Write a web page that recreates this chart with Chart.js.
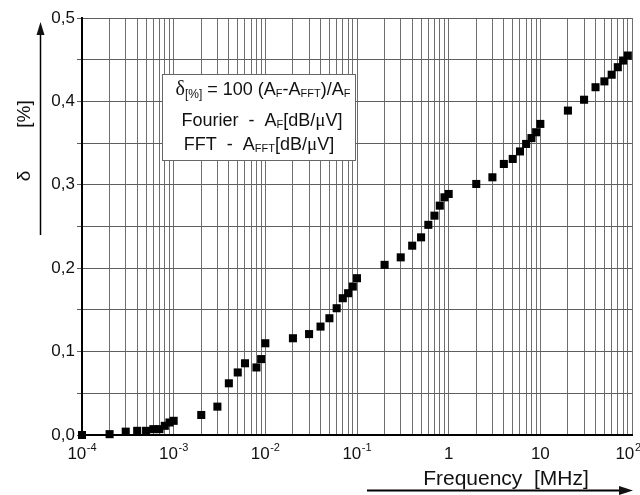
<!DOCTYPE html>
<html>
<head>
<meta charset="utf-8">
<script src="https://cdn.jsdelivr.net/npm/chart.js@4"></script>
<style>
  html, body { margin: 0; padding: 0; background: #fff; }
  #c { display: block; }
</style>
</head>
<body>
<canvas id="c" width="640" height="495"></canvas>
<script>
// Relative difference between Fourier and FFT amplitudes vs. frequency
const freqMHz = [
  1e-4, 2e-4, 3e-4, 4e-4, 5e-4, 6e-4, 7e-4, 8e-4, 9e-4, 1e-3,
  2e-3, 3e-3, 4e-3, 5e-3, 6e-3, 8e-3, 9e-3, 1e-2,
  2e-2, 3e-2, 4e-2, 5e-2, 6e-2, 7e-2, 8e-2, 9e-2, 0.1,
  0.2, 0.3, 0.4, 0.5, 0.6, 0.7, 0.8, 0.9, 1,
  2, 3, 4, 5, 6, 7, 8, 9, 10,
  20, 30, 40, 50, 60, 70, 80, 90
];
const deltaPct = [
  0.000, 0.001, 0.004, 0.005, 0.005, 0.007, 0.007, 0.011, 0.015, 0.017,
  0.024, 0.034, 0.062, 0.075, 0.086, 0.081, 0.091, 0.110,
  0.116, 0.121, 0.130, 0.140, 0.152, 0.164, 0.170, 0.178, 0.188,
  0.204, 0.213, 0.227, 0.237, 0.252, 0.263, 0.275, 0.285, 0.289,
  0.301, 0.309, 0.325, 0.331, 0.340, 0.349, 0.356, 0.363, 0.373,
  0.389, 0.402, 0.417, 0.424, 0.432, 0.441, 0.449, 0.455
];
const xDecadeExponents = [-4, -3, -2, -1, 0, 1, 2];
const yTickLabels = ['0,0', '0,1', '0,2', '0,3', '0,4', '0,5'];
const xTitle = 'Frequency  [MHz]';
const yTitleSymbol = 'δ';
const yTitleUnit = '[%]';

const SANS = "'Liberation Sans', Arial, sans-serif";
const SERIF = "'Liberation Serif', 'Times New Roman', serif";

// 1..9 x 10^e gridlines for every decade, plus the last decade mark
const xGridValues = [];
for (let i = 0; i < xDecadeExponents.length - 1; i++) {
  for (let k = 1; k <= 9; k++) xGridValues.push(parseFloat(k + 'e' + xDecadeExponents[i]));
}
xGridValues.push(parseFloat('1e' + xDecadeExponents[xDecadeExponents.length - 1]));

// horizontal gridlines every 0.05, labelled every 0.1
const yGridValues = [];
for (let i = 0; i <= (yTickLabels.length - 1) * 2; i++) yGridValues.push(i / 20);

function measureRich(ctx, parts) {
  let total = 0;
  parts.forEach(p => {
    ctx.font = p.size + 'px ' + (p.family || SANS);
    p.w = ctx.measureText(p.t).width;
    total += p.w;
  });
  return total;
}

// draws a run of text pieces (with sub/superscripts) centred on cx
function drawRich(ctx, parts, cx, baseline) {
  const total = measureRich(ctx, parts);
  let x = cx - total / 2;
  ctx.textAlign = 'left';
  ctx.textBaseline = 'alphabetic';
  parts.forEach(p => {
    ctx.font = p.size + 'px ' + (p.family || SANS);
    ctx.fillText(p.t, x, baseline + (p.dy || 0));
    x += p.w;
  });
}

const decorations = {
  id: 'decorations',
  afterDraw(chart) {
    const ctx = chart.ctx;
    const xs = chart.scales.x;
    const W = chart.width;
    ctx.save();
    ctx.fillStyle = '#111';
    ctx.strokeStyle = '#000';

    // x tick labels: powers of ten with raised exponents, centred on the tick
    // (the last one is pulled in so it stays inside the canvas)
    xDecadeExponents.forEach(e => {
      const px = xs.getPixelForValue(Math.pow(10, e));
      let parts;
      if (e === 0 || e === 1) {
        parts = [{ t: e === 0 ? '1' : '10', size: 17 }];
      } else {
        parts = [
          { t: '10', size: 17 },
          { t: ' ', size: 2 },
          { t: String(e), size: 11, dy: -8 }
        ];
      }
      const w = measureRich(ctx, parts);
      const cx = Math.min(px, W + 1 - w / 2);
      drawRich(ctx, parts, cx, 459);
    });

    // x axis title and arrow
    ctx.font = '21px ' + SANS;
    ctx.textAlign = 'center';
    ctx.textBaseline = 'alphabetic';
    ctx.fillText(xTitle, 506, 485);
    ctx.lineWidth = 2;
    ctx.beginPath();
    ctx.moveTo(367, 490.5);
    ctx.lineTo(622, 490.5);
    ctx.stroke();
    ctx.beginPath();
    ctx.moveTo(619, 486);
    ctx.lineTo(633, 490.5);
    ctx.lineTo(619, 495);
    ctx.closePath();
    ctx.fill();

    // y axis title (rotated) and arrow
    ctx.save();
    ctx.translate(30, 0);
    ctx.rotate(-Math.PI / 2);
    ctx.font = '19px ' + SANS;
    ctx.textAlign = 'center';
    ctx.fillText(yTitleSymbol, -176, 0);
    ctx.fillText(yTitleUnit, -114, 0);
    ctx.restore();
    ctx.lineWidth = 1.5;
    ctx.beginPath();
    ctx.moveTo(40.5, 235);
    ctx.lineTo(40.5, 32);
    ctx.stroke();
    ctx.beginPath();
    ctx.moveTo(36.5, 35);
    ctx.lineTo(40.5, 22);
    ctx.lineTo(44.5, 35);
    ctx.closePath();
    ctx.fill();

    // formula box
    ctx.fillStyle = '#fff';
    ctx.fillRect(162, 74, 193, 86);
    ctx.strokeStyle = '#666';
    ctx.lineWidth = 1;
    ctx.strokeRect(162.5, 74.5, 193, 86);
    ctx.fillStyle = '#111';
    const big = 18, small = 11;
    drawRich(ctx, [
      { t: 'δ', size: 20, family: SERIF },
      { t: '[%]', size: 12, dy: 3 },
      { t: ' = 100 (A', size: big },
      { t: 'F', size: small, dy: 2 },
      { t: '-A', size: big },
      { t: 'FFT', size: small, dy: 2 },
      { t: ')/A', size: big },
      { t: 'F', size: small, dy: 2 }
    ], 263, 95);
    drawRich(ctx, [
      { t: 'Fourier  -  A', size: big },
      { t: 'F', size: small, dy: 2 },
      { t: '[dB/', size: big },
      { t: 'μ', size: 19, family: SERIF },
      { t: 'V]', size: big }
    ], 262, 125.5);
    drawRich(ctx, [
      { t: 'FFT  -  A', size: big },
      { t: 'FFT', size: small, dy: 2 },
      { t: '[dB/', size: big },
      { t: 'μ', size: 19, family: SERIF },
      { t: 'V]', size: big }
    ], 259, 149.5);

    ctx.restore();
  }
};

new Chart(document.getElementById('c'), {
  type: 'scatter',
  data: {
    datasets: [{
      data: freqMHz.map((f, i) => ({ x: f, y: deltaPct[i] })),
      showLine: false,
      pointStyle: 'rect',
      pointRadius: 5.7,
      pointBackgroundColor: '#000',
      pointBorderColor: '#000',
      pointBorderWidth: 0,
      clip: false
    }]
  },
  options: {
    responsive: false,
    animation: false,
    devicePixelRatio: 1,
    layout: { padding: { left: 0, right: 8, top: 18, bottom: 0 } },
    plugins: { legend: { display: false }, tooltip: { enabled: false } },
    scales: {
      x: {
        type: 'logarithmic',
        min: xGridValues[0],
        max: xGridValues[xGridValues.length - 1],
        afterBuildTicks: s => { s.ticks = xGridValues.map(v => ({ value: v })); },
        afterFit: s => { s.height = 60; },
        ticks: { autoSkip: false, maxRotation: 0, callback: () => '' },
        grid: { color: '#6f6f6f', lineWidth: 1, drawTicks: false },
        border: { color: '#000', width: 2 }
      },
      y: {
        type: 'linear',
        min: 0,
        max: 0.5,
        afterBuildTicks: s => { s.ticks = yGridValues.map(v => ({ value: v })); },
        afterFit: s => { s.width = 82; },
        ticks: {
          autoSkip: false,
          padding: 2,
          color: '#111',
          font: { family: SANS, size: 17 },
          callback: v => {
            const n = Math.round(v * 20);
            return n % 2 === 0 ? yTickLabels[n / 2] : '';
          }
        },
        grid: { color: '#5e5e5e', lineWidth: 1, tickLength: 5, drawTicks: true },
        border: { color: '#000', width: 2 }
      }
    }
  },
  plugins: [decorations]
});
</script>
</body>
</html>
